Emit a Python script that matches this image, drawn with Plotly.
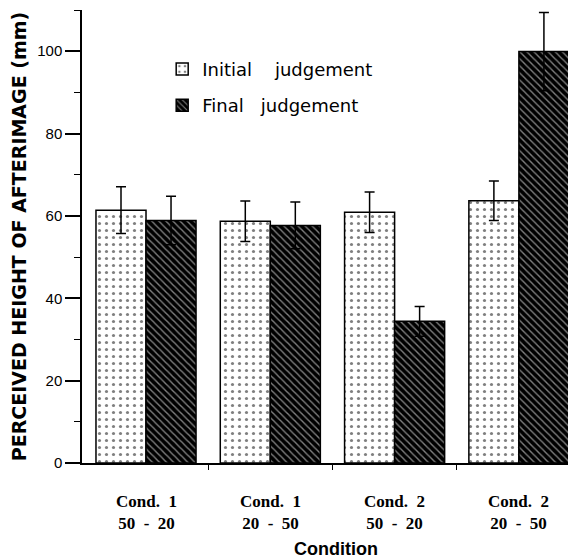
import plotly.graph_objects as go

cond_line1 = ["Cond.\u00a0\u00a01", "Cond.\u00a0\u00a01", "Cond.\u00a0\u00a02", "Cond.\u00a0\u00a02"]
cond_line2 = ["50\u00a0\u00a0-\u00a0\u00a020", "20\u00a0\u00a0-\u00a0\u00a050", "50\u00a0\u00a0-\u00a0\u00a020", "20\u00a0\u00a0-\u00a0\u00a050"]
initial_vals = [61.4, 58.7, 60.9, 63.7]
initial_err = [5.7, 4.9, 4.9, 4.8]
final_vals = [58.9, 57.7, 34.4, 99.9]
final_err = [5.9, 5.7, 3.6, 9.5]
y_ticks = [0, 20, 40, 60, 80, 100]
group_dividers = [0.5, 1.5, 2.5]

xpos = list(range(len(cond_line1)))

fig = go.Figure()
fig.add_trace(go.Bar(
    x=xpos, y=initial_vals, name="Initial\u00a0\u00a0\u00a0\u00a0judgement",
    legendgroup="a",
    marker=dict(color="white", line=dict(color="black", width=1.5),
                pattern=dict(shape=".", fgcolor="black", bgcolor="white",
                             size=7, solidity=0.16)),
    error_y=dict(type="data", array=initial_err, visible=True,
                 color="black", thickness=1.5, width=5),
))
fig.add_trace(go.Bar(
    x=xpos, y=final_vals, name="Final\u00a0\u00a0\u00a0judgement",
    legendgroup="b",
    marker=dict(color="black", line=dict(color="black", width=1.5),
                pattern=dict(shape="\\", fgcolor="white", bgcolor="black",
                             size=5, solidity=0.28)),
    error_y=dict(type="data", array=final_err, visible=True,
                 color="black", thickness=1.5, width=5),
))

annotations = []
for i, (l1, l2) in enumerate(zip(cond_line1, cond_line2)):
    annotations.append(dict(
        x=i, y=0, xref="x", yref="y", text="<b>" + l1 + "</b><br><b>" + l2 + "</b>",
        showarrow=False, yanchor="top", xanchor="center", yshift=-27,
        font=dict(family="Liberation Serif, Times New Roman", size=17, color="black")))
annotations.append(dict(
    x=0.523, y=0, xref="paper", yref="paper", text="<b>Condition</b>",
    showarrow=False, yanchor="middle", xanchor="center", yshift=-86,
    font=dict(family="Liberation Sans, Arial", size=18, color="black")))

fig.update_layout(
    width=568, height=550,
    margin=dict(l=74, r=8, t=2, b=95),
    paper_bgcolor="white", plot_bgcolor="white",
    barmode="group", bargap=0.195, bargroupgap=0,
    showlegend=True,
    legend=dict(x=0.165, y=0.91, xanchor="left", yanchor="top",
                font=dict(family="DejaVu Sans", size=18, color="black"),
                bgcolor="rgba(0,0,0,0)", tracegroupgap=10, itemwidth=30),
    font=dict(family="Liberation Sans, Arial", color="black"),
    annotations=annotations,
)
fig.update_xaxes(
    range=[-0.515, 3.395],
    tickvals=xpos, showticklabels=False,
    ticks="", showline=True, linecolor="black", linewidth=1.5,
    minor=dict(tickvals=group_dividers, ticks="outside", ticklen=5, tickcolor="black", tickwidth=1),
    showgrid=False, zeroline=False,
)
fig.update_yaxes(
    range=[0, 110], tickvals=y_ticks, ticks="outside", ticklen=15, tickwidth=1.5, tickcolor="black",
    showline=True, linecolor="black", linewidth=1.5,
    minor=dict(dtick=10, ticks="outside", ticklen=6, tickcolor="black", tickwidth=1),
    tickfont=dict(family="Liberation Sans, Arial", size=15, color="black"),
    showgrid=False, zeroline=False,
    title=dict(text="<b>PERCEIVED HEIGHT OF AFTERIMAGE (mm)</b>",
               font=dict(family="DejaVu Sans", size=19), standoff=7),
)

fig.write_html("out.html")
